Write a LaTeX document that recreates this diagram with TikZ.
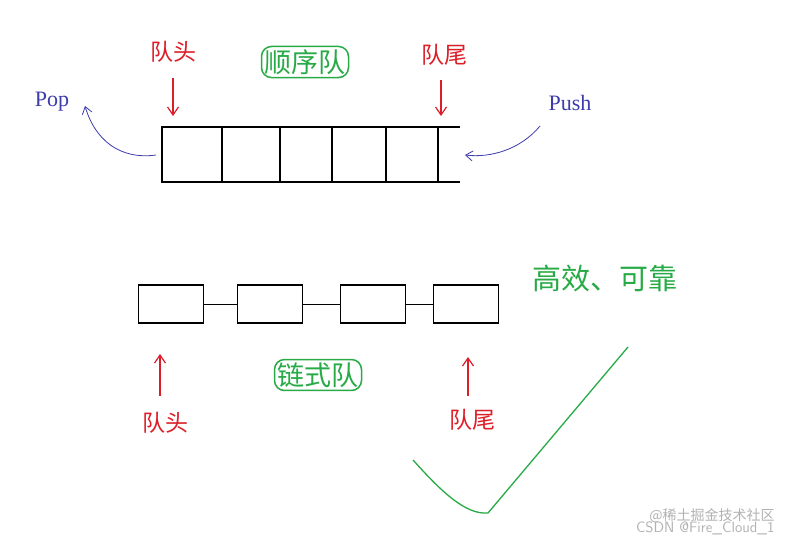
\documentclass[tikz,border=0pt]{standalone}
\usepackage{fontspec}
\setmainfont{Liberation Serif}
\newfontfamily\cjk{Noto Sans CJK SC}
\usetikzlibrary{arrows.meta}
\definecolor{rd}{RGB}{220,30,40}
\definecolor{gn}{RGB}{40,170,70}
\definecolor{bl}{RGB}{60,60,170}
\tikzset{x=1pt,y=-1pt,
 lbl/.style={text=rd,font=\cjk\fontsize{23}{23}\selectfont},
 gbox/.style={draw=gn,line width=1.5pt,rounded corners=10pt,text=gn,font=\cjk\fontsize{27}{27}\selectfont,inner sep=3pt},
 rarr/.style={draw=rd,line width=1.2pt,-{Straight Barb[length=8pt,width=11pt]}},
 barr/.style={draw=bl,thick,-{Straight Barb[length=7pt,width=10pt]}},
 cell/.style={draw,line width=1.8pt,minimum width=65pt,minimum height=38pt,inner sep=0pt}}
\begin{document}
\begin{tikzpicture}
\useasboundingbox (0,0) rectangle (792,544);
\fill[white] (0,0) rectangle (792,544);
% top array
\draw[line width=2pt] (460,127) -- (162,127) -- (162,182) -- (460,182);
\foreach \x in {222,280,332,386,438} \draw[line width=2pt] (\x,127) -- (\x,182);
\node[lbl] (h1) at (173,52) {队头};
\node[lbl] (t1) at (444,55) {队尾};
\coordinate (h1e) at (173,116); \coordinate (t1e) at (441,116);
\draw[rarr] (173,78) -- (h1e);
\draw[rarr] (441,80) -- (t1e);
\node[gbox] (seq) at (305,62) {顺序队};
\node[text=bl,font=\fontsize{22}{22}\selectfont] (pop) at (52,102) {Pop};
\node[text=bl,font=\fontsize{22}{22}\selectfont] (push) at (570,103) {Push};
\coordinate (ps) at (156,155); \coordinate (pe) at (85,106);
\draw[barr] (ps) .. controls (120,160) and (95,140) .. (pe);
\coordinate (qs) at (540,126); \coordinate (qe) at (465,155);
\draw[barr] (qs) .. controls (520,150) and (490,158) .. (qe);
% linked
\node[cell] (a) at (171,304) {};
\node[cell] (b) at (270,304) {};
\node[cell] (c) at (373,304) {};
\node[cell] (d) at (466,304) {};
\draw[thick] (a) -- (b); \draw[thick] (b) -- (c); \draw[thick] (c) -- (d);
\node[lbl] (h2) at (165,423) {队头};
\node[lbl] (t2) at (472,420) {队尾};
\coordinate (h2e) at (160,354); \coordinate (t2e) at (468,357);
\draw[rarr] (160,396) -- (h2e);
\draw[rarr] (468,396) -- (t2e);
\node[gbox] (lk) at (318,375) {链式队};
\node[text=gn,font=\cjk\fontsize{29}{29}\selectfont] (ok) at (605,278) {高效、可靠};
\draw[gn,line width=1.3pt] (413,460) .. controls (440,490) and (465,515) .. (488,513) -- (628,347);
\node[text=gray!60,font=\cjk\fontsize{14}{14}\selectfont] (w1) at (712,516) {@稀土掘金技术社区};
\node[text=gray!60,font=\sffamily\fontsize{15}{15}\selectfont,anchor=east] (w2) at (778,528) {CSDN @Fire\_Cloud\_1};
\end{tikzpicture}
\end{document}
